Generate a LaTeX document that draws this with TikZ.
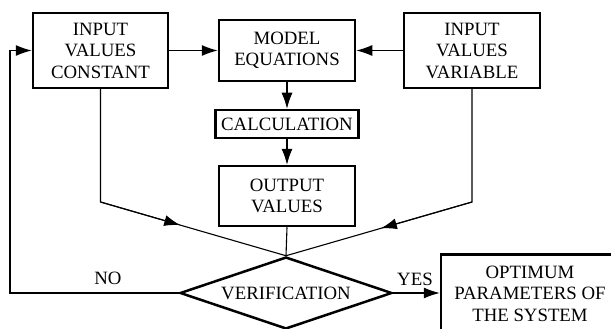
\documentclass[tikz,border=0pt]{standalone}
\usepackage{fontspec}
\setmainfont{Liberation Serif}
\usetikzlibrary{arrows.meta,shapes.geometric}
\begin{document}
\begin{tikzpicture}[x=1pt,y=-1pt,
  txt/.style={font=\fontsize{18.8}{21.5}\selectfont},
  box/.style={txt,draw,line width=2.5pt,align=center,inner sep=0pt},
  conn/.style={line width=1.1pt},
  arr/.style={conn,-{Latex[length=16pt,width=11pt]}},
  lbl/.style={txt,inner sep=0pt,anchor=base}]
\useasboundingbox (0,0) rectangle (611,329);
\clip (0,0) rectangle (611,329);
\node[box,minimum width=135pt,minimum height=75pt] (ic) at (100.5,50.5) {INPUT\\VALUES\\CONSTANT};
\node[box,minimum width=136pt,minimum height=61pt] (me) at (287,50.5) {MODEL\\EQUATIONS};
\node[box,minimum width=136pt,minimum height=75pt] (iv) at (472,50.5) {INPUT\\VALUES\\VARIABLE};
\node[box,minimum width=143pt,minimum height=28pt] (calc) at (287,124) {CALCULATION};
\node[box,minimum width=136pt,minimum height=60pt] (out) at (287,196) {OUTPUT\\VALUES};
\node[txt,draw,diamond,aspect=2.94,line width=2.5pt,minimum width=212pt,minimum height=72pt,inner sep=0pt] (dia) at (286,293) {VERIFICATION};
\node[box,minimum width=178pt,minimum height=78pt] (opt) at (530,293.5) {OPTIMUM\\PARAMETERS OF\\THE SYSTEM};
\node[lbl] (no) at (108,284) {NO};
\node[lbl] (yes) at (415,285) {YES};
\coordinate (b1) at (100.5,202);
\coordinate (b2) at (472,202);
\coordinate (f1) at (10,293);
\coordinate (f2) at (10,50.5);
\path (b1) -- (dia.north) coordinate[pos=0.43] (t1);
\path (b2) -- (dia.north) coordinate[pos=0.49] (t2);
\draw[arr] (ic.east) -- (me.west);
\draw[arr] (iv.west) -- (me.east);
\draw[arr] (me.south) -- (calc.north);
\draw[arr] (calc.south) -- (out.north);
\draw[conn] (out.south) -- (dia.north);
\draw[conn] (ic.south) -- (b1) -- (dia.north);
\draw[arr] (b1) -- (t1);
\draw[conn] (iv.south) -- (b2) -- (dia.north);
\draw[arr] (b2) -- (t2);
\draw[arr] (dia.west) -- (f1) -- (f2) -- (ic.west);
\draw[arr] (dia.east) -- (dia.east -| opt.west);
\end{tikzpicture}
\end{document}
